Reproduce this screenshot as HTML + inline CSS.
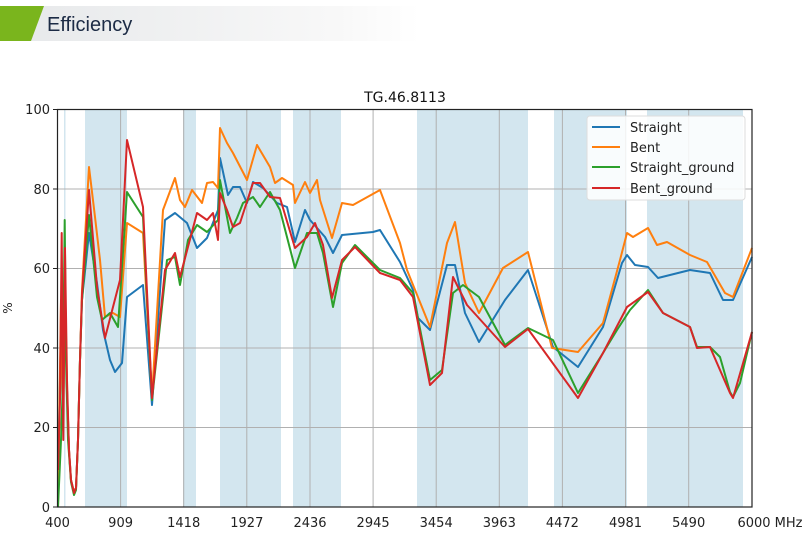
<!DOCTYPE html>
<html><head><meta charset="utf-8"><style>
body{margin:0;width:811px;height:535px;background:#fff;overflow:hidden;font-family:"DejaVu Sans","Liberation Sans",sans-serif}
</style></head><body>
<svg width="811" height="535" xmlns="http://www.w3.org/2000/svg" style="position:absolute;left:0;top:0">
<defs><linearGradient id="hg" x1="0" x2="1"><stop offset="0" stop-color="#e6e8ea"/><stop offset="0.8" stop-color="#f8f8f8"/><stop offset="1" stop-color="#fff"/></linearGradient></defs>
<rect x="0" y="6" width="420" height="35" fill="url(#hg)"/>
<polygon points="0,6 44,6 31,41 0,41" fill="#7ab51d"/>
<text x="47" y="31" font-family="Liberation Sans Narrow,Liberation Sans,sans-serif" font-size="20" fill="#1c2b45">Efficiency</text>
<text x="405" y="102" font-size="14" text-anchor="middle" fill="#111">TG.46.8113</text>
<g fill="#d3e6ef">
<rect x="85" y="109.5" width="42" height="397.5"/><rect x="183" y="109.5" width="13" height="397.5"/>
<rect x="220" y="109.5" width="61" height="397.5"/><rect x="293" y="109.5" width="48" height="397.5"/>
<rect x="417" y="109.5" width="111" height="397.5"/><rect x="554" y="109.5" width="73" height="397.5"/>
<rect x="647" y="109.5" width="96" height="397.5"/><rect x="64" y="109.5" width="1.5" height="397.5"/>
</g>
<g stroke="#b0b0b0" stroke-width="1">
<line x1="120.6" y1="109.5" x2="120.6" y2="507"/><line x1="183.7" y1="109.5" x2="183.7" y2="507"/>
<line x1="246.8" y1="109.5" x2="246.8" y2="507"/><line x1="310" y1="109.5" x2="310" y2="507"/>
<line x1="373.1" y1="109.5" x2="373.1" y2="507"/><line x1="436.2" y1="109.5" x2="436.2" y2="507"/>
<line x1="499.3" y1="109.5" x2="499.3" y2="507"/><line x1="562.4" y1="109.5" x2="562.4" y2="507"/>
<line x1="625.5" y1="109.5" x2="625.5" y2="507"/><line x1="688.7" y1="109.5" x2="688.7" y2="507"/>
<line x1="57.5" y1="427.5" x2="752" y2="427.5"/><line x1="57.5" y1="348" x2="752" y2="348"/>
<line x1="57.5" y1="268.5" x2="752" y2="268.5"/><line x1="57.5" y1="189" x2="752" y2="189"/>
</g>
<g fill="none" stroke-width="2" stroke-linejoin="round">
<polyline stroke="#1f77b4" points="58,480 61,330 63,420 65,300 67,390 69,450 71,480 74,492 76,488 78,440 80,360 82,300 89,233 97,283 103,330 110,360 115,372 122,363 127,297 143,285 152,405 165,220 175,213 187,223 197,248 207,238 218,210 220,158 228,195 233,187 240,187 247,203 253,182 263,188 277,203 287,207 295,242 305,210 310,220 325,237 333,253 342,235 373,232 380,230 400,262 413,290 418,318 430,330 447,265 455,265 465,313 479,342 505,300 528,270 553,347 578,367 603,327 622,263 627,255 635,265 648,267 658,278 690,270 710,273 723,300 733,300 752,257"/>
<polyline stroke="#ff7f0e" points="58,507 61,300 63,430 65,280 67,390 69,450 71,480 74,492 76,488 78,440 80,360 82,290 89,167 95,217 100,260 105,317 113,313 120,317 127,223 143,233 152,397 163,210 175,178 180,200 185,207 192,190 202,203 207,183 213,182 218,188 220,128 227,143 233,153 247,180 257,145 270,167 275,183 282,178 293,185 295,203 305,182 310,193 317,180 320,200 332,238 342,203 353,205 380,190 400,243 407,270 430,327 447,243 455,222 465,283 479,313 503,268 528,252 552,348 578,352 603,323 620,260 627,233 633,237 648,228 657,245 667,242 690,255 707,262 725,293 733,297 752,248"/>
<polyline stroke="#2ca02c" points="58,507 61,440 63,380 64.7,220 66,360 68,440 71,482 74,495 76,490 78,440 80,360 82,300 89,215 97,297 102,320 110,313 118,327 127,192 143,217 152,400 167,260 175,257 180,285 188,240 197,225 207,232 218,220 220,180 230,233 237,218 243,203 253,197 260,207 270,192 280,210 295,268 307,233 317,233 323,253 333,307 342,263 355,245 380,270 400,278 413,293 430,380 442,370 453,293 463,285 479,297 505,345 528,328 553,340 578,393 603,353 617,330 630,310 648,290 663,313 690,327 697,347 710,347 720,357 730,392 733,397 740,383 752,332"/>
<polyline stroke="#d62728" points="58,470 60,400 61.7,233 63.3,440 65,248 67,380 69,450 71,480 74,493 76,488 78,440 80,360 82,295 89,190 97,287 105,338 113,307 120,280 127,140 143,207 152,398 165,270 175,253 180,277 197,213 207,220 213,213 218,240 220,193 227,210 233,227 240,223 253,183 260,183 270,197 280,198 295,248 307,237 315,223 323,245 332,298 342,260 355,247 380,273 400,280 413,297 430,385 442,373 453,277 467,305 505,347 528,329 578,398 603,353 627,307 648,292 663,313 690,327 697,348 710,347 730,393 733,398 752,332"/>
</g>
<rect x="57.5" y="109.5" width="694.5" height="397.5" fill="none" stroke="#222" stroke-width="1.2"/>
<g stroke="#222"><line x1="53" y1="507" x2="57.5" y2="507"/><line x1="53" y1="427.5" x2="57.5" y2="427.5"/><line x1="53" y1="348" x2="57.5" y2="348"/><line x1="53" y1="268.5" x2="57.5" y2="268.5"/><line x1="53" y1="189" x2="57.5" y2="189"/><line x1="53" y1="109.5" x2="57.5" y2="109.5"/></g>
<g font-size="13" fill="#222" text-anchor="end">
<text x="50" y="512">0</text><text x="50" y="432">20</text><text x="50" y="353">40</text><text x="50" y="273">60</text><text x="50" y="194">80</text><text x="50" y="114">100</text></g>
<g font-size="13" fill="#222" text-anchor="middle">
<text x="57.5" y="527">400</text><text x="120.6" y="527">909</text><text x="183.7" y="527">1418</text><text x="246.8" y="527">1927</text><text x="310" y="527">2436</text><text x="373.1" y="527">2945</text><text x="436.2" y="527">3454</text><text x="499.3" y="527">3963</text><text x="562.4" y="527">4472</text><text x="625.5" y="527">4981</text><text x="688.7" y="527">5490</text><text x="770" y="527">6000 MHz</text></g>
<text x="12" y="308" font-size="12" fill="#222" transform="rotate(-90 12 308)" text-anchor="middle">%</text>
<rect x="587" y="116" width="158" height="84" rx="3" fill="#fff" fill-opacity="0.85" stroke="#ddd"/>
<g stroke-width="2"><line x1="592" y1="127" x2="620" y2="127" stroke="#1f77b4"/><line x1="592" y1="147" x2="620" y2="147" stroke="#ff7f0e"/><line x1="592" y1="167" x2="620" y2="167" stroke="#2ca02c"/><line x1="592" y1="188" x2="620" y2="188" stroke="#d62728"/></g>
<g font-size="13" fill="#222"><text x="630" y="132">Straight</text><text x="630" y="152">Bent</text><text x="630" y="172">Straight_ground</text><text x="630" y="193">Bent_ground</text></g>
</svg>
</body></html>
